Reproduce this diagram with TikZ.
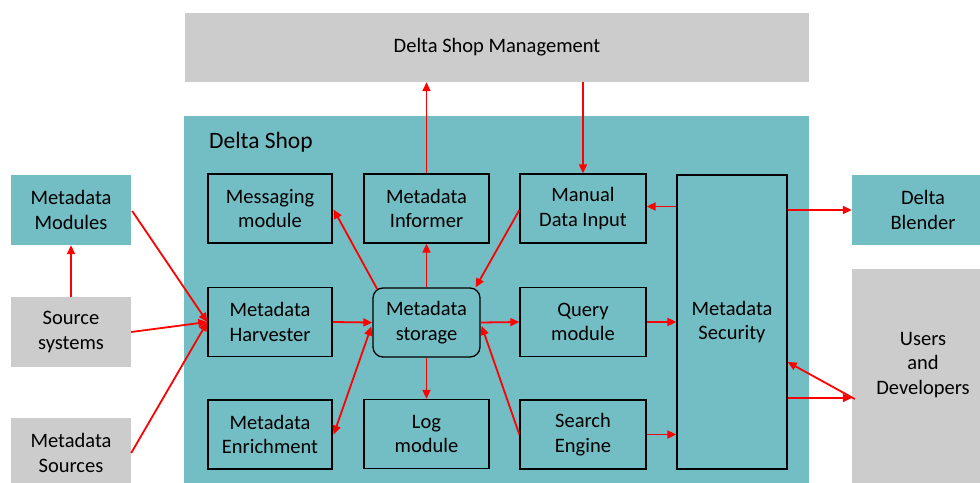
\documentclass[tikz,border=0pt]{standalone}
\usepackage{fontspec}
\setmainfont{Carlito}
\usetikzlibrary{arrows.meta,calc}
\definecolor{teal1}{RGB}{115,190,196}
\definecolor{gray1}{RGB}{204,204,204}
\definecolor{red1}{RGB}{255,0,0}
\tikzset{
  base/.style={rectangle,inner sep=0pt,align=center,font=\fontsize{20.5}{24.5}\selectfont},
  tealbox/.style={base,fill=teal1},
  graybox/.style={base,fill=gray1},
  inbox/.style={base,draw=black,line width=1.3pt,fill=teal1,minimum width=124pt,minimum height=69pt},
  arr/.style={draw=red1,line width=1.8pt,-{Triangle[length=9pt,width=8pt]}},
  darr/.style={draw=red1,line width=1.8pt,{Triangle[length=9pt,width=8pt]}-{Triangle[length=9pt,width=8pt]}}
}
\begin{document}
\begin{tikzpicture}[x=1pt,y=-1pt]
\useasboundingbox (0,0) rectangle (980,482);
\fill[white] (0,0) rectangle (980,482);
% outer boxes
\node[graybox,minimum width=624pt,minimum height=69pt] (mgmt) at (497,47.5) {Delta Shop Management};
\node[tealbox,minimum width=625pt,minimum height=380pt] (shop) at (496.5,306) {};
\node[base,anchor=west,font=\fontsize{23.5}{27}\selectfont] (shoplbl) at (209,142) {Delta Shop};
\node[tealbox,minimum width=120pt,minimum height=70pt] (mods) at (71,210) {Metadata\\Modules};
\node[graybox,minimum width=120pt,minimum height=70pt] (src) at (71,332) {Source\\systems};
\node[graybox,minimum width=120pt,minimum height=70pt] (msrc) at (71,453) {Metadata\\Sources};
\node[tealbox,minimum width=142pt,minimum height=70pt] (blend) at (923,210) {Delta\\Blender};
\node[graybox,minimum width=142pt,minimum height=226pt] (users) at (923,382) {};
\node[base] (userstxt) at (923,365) {Users\\and\\Developers};
% inner boxes
\node[inbox] (msg) at (270,208.5) {Messaging\\module};
\node[inbox] (harv) at (270,322) {Metadata\\Harvester};
\node[inbox] (enr) at (270,434.5) {Metadata\\Enrichment};
\node[inbox,minimum width=125pt] (inf) at (426.5,208.5) {Metadata\\Informer};
\node[inbox,minimum width=107pt,rounded corners=10pt] (stor) at (426.5,322.5) {Metadata\\storage};
\node[inbox,minimum width=125pt] (log) at (426.5,434) {Log\\module};
\node[inbox,minimum width=126pt] (man) at (583,208.5) {Manual\\Data Input};
\node[inbox,minimum width=126pt] (qry) at (583,322) {Query\\module};
\node[inbox,minimum width=126pt] (srch) at (583,434.5) {Search\\Engine};
\node[inbox,minimum width=110pt,minimum height=294pt] (sec) at (732,322) {Metadata\\Security};
% connectors
\draw[arr] (src.north) -- (mods.south);
\draw[arr] ($(mods.east)+(1,1)$) -- (harv.west);
\draw[arr] (src.east) -- (harv.west);
\draw[arr] (msrc.east) -- (harv.west);
\draw[arr] (harv.east) -- (stor.west);
\draw[darr] ($(stor.west)+(-1,4)$) -- ($(enr.east)+(1,0)$);
\draw[arr] ($(stor.north west)+(5,2)$) -- ($(msg.east)+(1,1)$);
\draw[arr] (stor.north) -- (inf.south);
\draw[arr] (stor.south) -- (log.north);
\draw[arr] (inf.north) -- (inf.north |- mgmt.south);
\draw[arr] (man.north |- mgmt.south) -- (man.north);
\draw[arr] ($(man.west)+(0,1.5)$) -- ($(stor.north east)+(-5,0)$);
\draw[arr] ([yshift=2pt]sec.west |- man.east) -- ([yshift=2pt]man.east);
\draw[arr] (stor.east) -- (qry.west);
\draw[arr] (qry.east) -- (sec.west |- qry.east);
\draw[arr] (srch.west) -- ($(stor.east)+(1,3.5)$);
\draw[arr] (srch.east) -- (sec.west |- srch.east);
\draw[arr] (sec.east |- blend.west) -- (blend.west);
\draw[arr] ([yshift=-16pt]sec.east |- users.west) -- ([yshift=-16pt]users.west);
\draw[arr] ($(users.west)+(3,17)$) -- ($(sec.east)+(0,40)$);
\end{tikzpicture}
\end{document}
